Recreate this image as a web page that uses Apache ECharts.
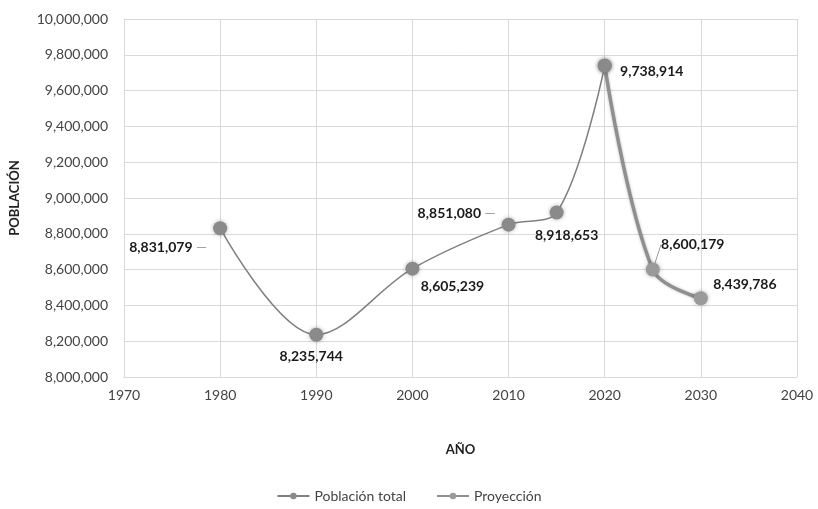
<!DOCTYPE html>
<html><head><meta charset="utf-8">
<script src="https://cdn.jsdelivr.net/npm/echarts@6/dist/echarts.min.js"></script>
<style>html,body{margin:0;padding:0;background:#fff}#c{width:818px;height:509px}</style>
</head><body><div id="c"></div>
<script>
var totalYears = [1980, 1990, 2000, 2010, 2015, 2020];
var totalValues = [8831079, 8235744, 8605239, 8851080, 8918653, 9738914];
var projYears = [2020, 2025, 2030];
var projValues = [9738914, 8600179, 8439786];
var seriesNames = ['Población total', 'Proyección'];

// label offsets (dx, dy) – styling only
var totalLabelPos = [[-52, 19], [-5, 22], [40, 18], [-52, -11], [10, 23], [47, 6]];
var projLabelPos = [[47, 6], [40, -25], [44, -14]];
var dashAfter = { 0: true, 3: true };

var fontFam = 'Lato, "Open Sans", sans-serif';
var chart = echarts.init(document.getElementById('c'));
function fmt(v) { return v.toLocaleString('en-US'); }

var totalData = totalYears.map(function (y, i) { return [y, totalValues[i]]; });
var projData = projYears.map(function (y, i) {
  var d = { value: [y, projValues[i]] };
  if (i !== 1) d.labelLine = { show: false };
  return d;
});

var labelBase = {
  show: true, position: 'inside', fontFamily: fontFam, fontWeight: 'bold', fontSize: 14, color: '#1a1a1a',
  rich: { d: { color: '#999', fontSize: 14, fontWeight: 'normal', fontFamily: fontFam } }
};

chart.setOption({
  animation: false,
  grid: { left: 123, right: 21, top: 19, bottom: 132 },
  xAxis: {
    type: 'value', min: 1970, max: 2040, interval: 10,
    name: 'AÑO', nameLocation: 'middle', nameGap: 66,
    nameTextStyle: { fontFamily: fontFam, fontWeight: 'bold', fontSize: 13, color: '#222' },
    axisLine: { show: true, lineStyle: { color: '#d9d9d9' } },
    axisTick: { show: false },
    splitLine: { show: true, lineStyle: { color: '#d9d9d9' } },
    axisLabel: { fontFamily: fontFam, fontSize: 14, color: '#444', margin: 11, formatter: function (v) { return String(v); } }
  },
  yAxis: {
    type: 'value', min: 8000000, max: 10000000, interval: 200000,
    name: 'POBLACIÓN', nameLocation: 'middle', nameGap: 103, nameRotate: 90,
    nameTextStyle: { fontFamily: fontFam, fontWeight: 'bold', fontSize: 13, color: '#222' },
    axisLine: { show: true, lineStyle: { color: '#d9d9d9' } },
    axisTick: { show: false },
    splitLine: { show: true, lineStyle: { color: '#d9d9d9' } },
    axisLabel: { fontFamily: fontFam, fontSize: 14, color: '#444', margin: 16, formatter: fmt }
  },
  legend: {
    bottom: 1, left: 'center', itemGap: 30, itemWidth: 32, itemHeight: 8,
    textStyle: { fontFamily: fontFam, fontSize: 14, color: '#444' },
    data: seriesNames
  },
  series: [
    {
      name: seriesNames[0], type: 'line', smooth: 0.35,
      data: totalData,
      symbol: 'circle', symbolSize: 14,
      itemStyle: { color: '#8a8a8a', shadowBlur: 4, shadowColor: 'rgba(0,0,0,0.3)' },
      lineStyle: { color: '#808080', width: 1.5 },
      label: Object.assign({}, labelBase, {
        formatter: function (p) {
          if (p.dataIndex === 5) return '';
          var s = fmt(p.value[1]);
          return dashAfter[p.dataIndex] ? s + ' {d|—}' : s;
        }
      }),
      labelLayout: function (p) {
        var o = totalLabelPos[p.dataIndex];
        return { dx: o[0], dy: o[1] };
      },
      z: 3
    },
    {
      name: seriesNames[1], type: 'line', smooth: 0.35,
      data: projData,
      symbol: 'circle', symbolSize: 14,
      itemStyle: { color: '#9a9a9a', shadowBlur: 4, shadowColor: 'rgba(0,0,0,0.3)' },
      lineStyle: { color: '#8f8f8f', width: 3.5, shadowBlur: 3, shadowColor: 'rgba(0,0,0,0.25)' },
      label: Object.assign({}, labelBase, {
        formatter: function (p) { return fmt(p.value[1]); }
      }),
      labelLine: { show: true, length2: 0, lineStyle: { color: '#999', width: 1 } },
      labelLayout: function (p) {
        var o = projLabelPos[p.dataIndex];
        return { dx: o[0], dy: o[1] };
      },
      z: 2
    }
  ]
});
</script></body></html>
